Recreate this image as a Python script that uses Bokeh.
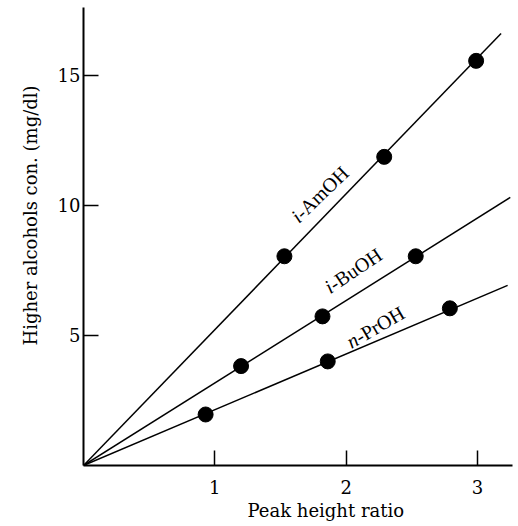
from bokeh.plotting import figure
from bokeh.models import ColumnDataSource, Range1d, FixedTicker, Title
from bokeh.embed import file_html
from bokeh.resources import INLINE

# ---- data ----
amoh_x = [1.53, 2.29, 2.99]
amoh_y = [8.04, 11.86, 15.55]
buoh_x = [1.20, 1.82, 2.53]
buoh_y = [3.82, 5.73, 8.04]
proh_x = [0.93, 1.86, 2.79]
proh_y = [1.96, 4.00, 6.04]

# calibration lines (from origin to their drawn end)
line_end_x = [3.18, 3.25, 3.23]
line_end_y = [16.6, 10.3, 6.92]

# series labels: italic prefix + rest
label_prefix = ["i", "i", "n"]
label_rest = ["-AmOH", "-BuOH", "-PrOH"]
label_x = [1.634, 1.885, 2.08]
label_y = [9.62, 6.92, 4.90]
label_angle = [44, 34, 30]

x_ticks = [1, 2, 3]
y_ticks = [5, 10, 15]
x_title = "Peak height ratio"
y_title = "Higher alcohols con. (mg/dl)"

FONT = "DejaVu Serif"

p = figure(width=518, height=526, output_backend="svg", toolbar_location=None,
           x_range=Range1d(0, 3.267), y_range=Range1d(0, 17.6),
           min_border_left=83, min_border_bottom=61, min_border_top=7,
           min_border_right=6)
p.outline_line_color = None
p.xgrid.visible = False
p.ygrid.visible = False
p.background_fill_color = "white"
p.border_fill_color = "white"

for ax in (p.xaxis[0], p.yaxis[0]):
    ax.axis_line_width = 2
    ax.axis_line_color = "black"
    ax.major_tick_in = 15
    ax.major_tick_out = 0
    ax.major_tick_line_width = 1.5
    ax.major_tick_line_color = "black"
    ax.minor_tick_in = 0
    ax.minor_tick_out = 0
    ax.major_label_text_font = FONT
    ax.major_label_text_font_size = "18px"
    ax.major_label_text_color = "black"

p.xaxis[0].ticker = FixedTicker(ticks=x_ticks)
p.yaxis[0].ticker = FixedTicker(ticks=y_ticks)
p.xaxis[0].major_label_standoff = 14
p.yaxis[0].major_label_standoff = 3

# lines
for ex, ey in zip(line_end_x, line_end_y):
    p.line([0, ex], [0, ey], line_color="black", line_width=1.5)

# points
for xs, ys in ((amoh_x, amoh_y), (buoh_x, buoh_y), (proh_x, proh_y)):
    p.scatter(xs, ys, size=15, marker="circle", fill_color="black", line_color="black")

# series labels
src = ColumnDataSource(dict(x=label_x, y=label_y, pre=label_prefix,
                            rest=label_rest, ang=label_angle))
p.text(x="x", y="y", text="pre", angle="ang", angle_units="deg", source=src,
       text_align="right", text_baseline="middle", text_font=FONT,
       text_font_style="italic", text_font_size="20px", text_color="black")
p.text(x="x", y="y", text="rest", angle="ang", angle_units="deg", source=src,
       text_align="left", text_baseline="middle", text_font=FONT,
       text_font_size="20px", text_color="black")

# axis titles
p.add_layout(Title(text=x_title, align="left", offset=164, standoff=3,
                   text_font=FONT, text_font_size="18px",
                   text_font_style="normal", text_color="black"), "below")
p.add_layout(Title(text=y_title, align="left", offset=120, standoff=28,
                   text_font=FONT, text_font_size="18px",
                   text_font_style="normal", text_color="black"), "left")

open("out.html", "w").write(file_html(p, INLINE))
